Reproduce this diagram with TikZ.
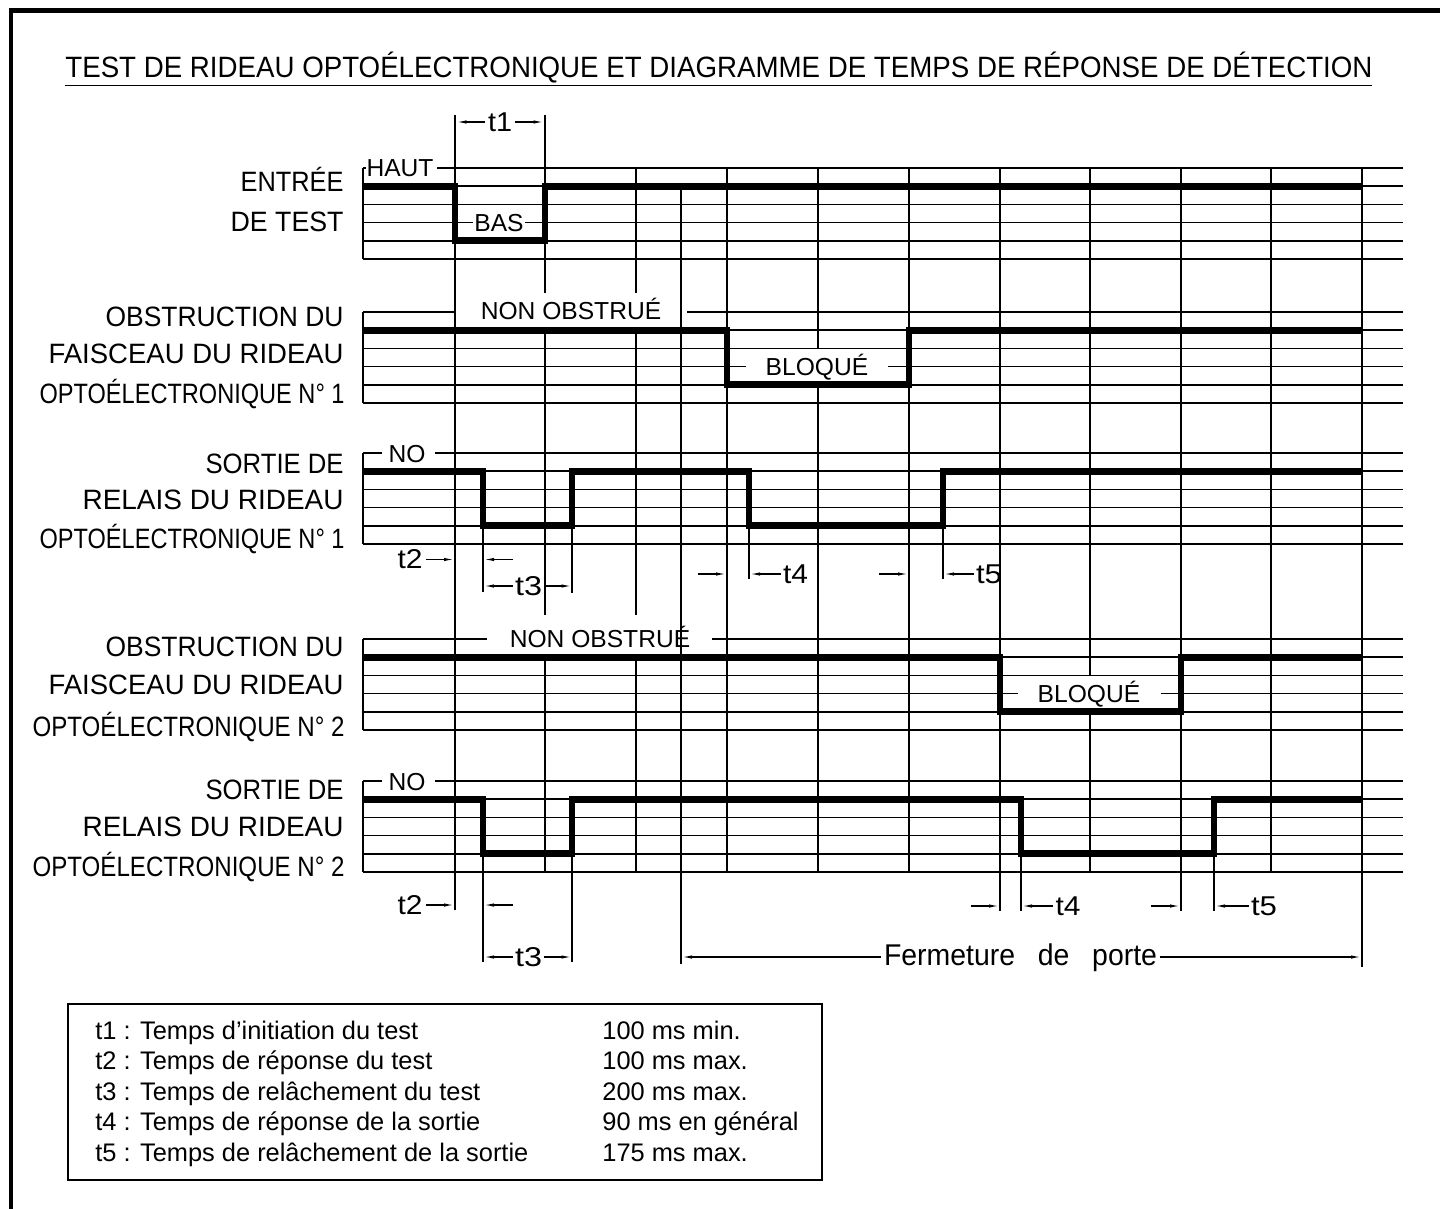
\documentclass[tikz,border=0pt]{standalone}
\usepackage{fontspec}
\usepackage{graphicx}
\setmainfont{Liberation Sans}
\newfontfamily\cadfont{Liberation Sans}
\usetikzlibrary{arrows.meta}
\newsavebox\fitbox
\newlength\fitlen
\newcommand\fitto[2]{\sbox\fitbox{#2}\setlength\fitlen{\wd\fitbox}\pgfmathsetmacro\fitratio{(#1/2)/\fitlen}\scalebox{\fitratio}[1]{\usebox\fitbox}}
\tikzset{
 gridline/.style={line width=0.85pt},
 wave/.style={line width=3.4pt, line join=miter, line cap=butt},
 dimline/.style={line width=0.6pt},
 dimarrow/.style={dimline, -{Latex[length=5pt,width=1.7pt]}},
 cadlbl/.style={inner sep=0pt, anchor=base east, font=\cadfont\fontsize{14}{16}\selectfont},
 tlbl/.style={inner sep=0pt, font=\cadfont\fontsize{13.6}{15}\selectfont},
 siglbl/.style={inner sep=0pt, anchor=base, font=\fontsize{12.3}{14}\selectfont},
 legtxt/.style={inner sep=0pt, anchor=base west, font=\fontsize{12.7}{15}\selectfont},
 frame/.style={line width=2.3pt},
 legbox/.style={line width=1.3pt},
}
\begin{document}
\begin{tikzpicture}[x=0.5pt,y=-0.5pt]
\useasboundingbox (0,0) rectangle (1440,1209);
% frame
\draw[frame] (11,1215) -- (11,10.5) -- (1445,10.5);
% title
\node[cadlbl, anchor=base west, font=\cadfont\fontsize{14.7}{16}\selectfont] (title) at (65,78)
 {\fitto{1307}{TEST DE RIDEAU OPTOÉLECTRONIQUE ET DIAGRAMME DE TEMPS DE RÉPONSE DE DÉTECTION}};
\draw[gridline] (65,85.5) -- (1372,85.5);

% grid blocks
\foreach \T in {168,312,453,639,781}{
  \draw[gridline] (363,\T) -- (363,{\T+91});
  \foreach \i in {1,2,4,5}{\draw[gridline] (363,{\T+\i*18.2}) -- (1403,{\T+\i*18.2});}
}
% block lines with label gaps
\draw[gridline] (363,168) -- (366,168) (437,168) -- (1403,168);
\draw[gridline] (363,222.6) -- (473,222.6) (525,222.6) -- (1403,222.6);
\draw[gridline] (363,312) -- (455,312) (687,312) -- (1403,312);
\draw[gridline] (363,366.6) -- (746,366.6) (888,366.6) -- (1403,366.6);
\draw[gridline] (363,453) -- (382,453) (435,453) -- (1403,453);
\draw[gridline] (363,507.6) -- (1403,507.6);
\draw[gridline] (363,639) -- (487,639) (712,639) -- (1403,639);
\draw[gridline] (363,693.6) -- (1018,693.6) (1161,693.6) -- (1403,693.6);
\draw[gridline] (363,781) -- (382,781) (435,781) -- (1403,781);
\draw[gridline] (363,835.6) -- (1403,835.6);

% vertical time lines
\draw[gridline] (455,115) -- (455,910);
\draw[gridline] (545,115) -- (545,293) (545,329) -- (545,615) (545,655) -- (545,872);
\draw[gridline] (636,168) -- (636,293) (636,329) -- (636,615) (636,655) -- (636,872);
\draw[gridline] (681,186) -- (681,964);
\draw[gridline] (727,168) -- (727,872);
\draw[gridline] (818,168) -- (818,348.4) (818,384.8) -- (818,872);
\draw[gridline] (909,168) -- (909,872);
\draw[gridline] (1000,168) -- (1000,911);
\draw[gridline] (1090,168) -- (1090,675.4) (1090,711.8) -- (1090,872);
\draw[gridline] (1181,168) -- (1181,911);
\draw[gridline] (1271,168) -- (1271,872);
\draw[gridline] (1362,168) -- (1362,967);

% waveforms
\draw[wave] (363,186.2) -| (455,240.8) -| (545,186.2) -- (1362,186.2);
\draw[wave] (363,330.2) -| (727,384.8) -| (909,330.2) -- (1362,330.2);
\draw[wave] (363,471.2) -| (483,525.8) -| (572,471.2) -| (749,525.8) -| (943,471.2) -- (1362,471.2);
\draw[wave] (363,657.2) -| (1000,711.8) -| (1181,657.2) -- (1362,657.2);
\draw[wave] (363,799.2) -| (483,853.8) -| (572,799.2) -| (1021,853.8) -| (1214,799.2) -- (1362,799.2);

% signal level labels
\node[siglbl] (haut) at (400,177) {HAUT};
\node[siglbl] (bas) at (499,231.6) {BAS};
\node[siglbl] (nonobs1) at (571,320) {NON OBSTRUÉ};
\node[siglbl] (bloq1) at (817,375.2) {BLOQUÉ};
\node[siglbl] (no1) at (407,462) {NO};
\node[siglbl] (nonobs2) at (600,647) {NON OBSTRUÉ};
\node[siglbl] (bloq2) at (1089,702) {BLOQUÉ};
\node[siglbl] (no2) at (407,790) {NO};

% row titles
\node[cadlbl] (r1a) at (344,192) {\fitto{103}{ENTRÉE}};
\node[cadlbl] (r1b) at (344,231.5) {\fitto{113}{DE TEST}};
\node[cadlbl] (r2a) at (344,327) {\fitto{238}{OBSTRUCTION DU}};
\node[cadlbl] (r2b) at (344,363) {\fitto{295}{FAISCEAU DU RIDEAU}};
\node[cadlbl] (r2c) at (345,403) {\fitto{305}{OPTOÉLECTRONIQUE N° 1}};
\node[cadlbl] (r3a) at (344,473) {\fitto{138}{SORTIE DE}};
\node[cadlbl] (r3b) at (344,509) {\fitto{261}{RELAIS DU RIDEAU}};
\node[cadlbl] (r3c) at (345,548) {\fitto{305}{OPTOÉLECTRONIQUE N° 1}};
\node[cadlbl] (r4a) at (344,656) {\fitto{238}{OBSTRUCTION DU}};
\node[cadlbl] (r4b) at (344,694) {\fitto{295}{FAISCEAU DU RIDEAU}};
\node[cadlbl] (r4c) at (345,736) {\fitto{312}{OPTOÉLECTRONIQUE N° 2}};
\node[cadlbl] (r5a) at (344,799) {\fitto{138}{SORTIE DE}};
\node[cadlbl] (r5b) at (344,836) {\fitto{261}{RELAIS DU RIDEAU}};
\node[cadlbl] (r5c) at (345,876) {\fitto{312}{OPTOÉLECTRONIQUE N° 2}};

% dimension labels
\node[tlbl] (t1) at (500,122) {\fitto{24}{t1}};
\node[tlbl] (t2a) at (410,559.5) {\fitto{25}{t2}};
\node[tlbl] (t3a) at (528.5,586) {\fitto{27}{t3}};
\node[tlbl] (t4a) at (795.5,574) {\fitto{25}{t4}};
\node[tlbl] (t5a) at (989,574) {\fitto{26}{t5}};
\node[tlbl] (t2b) at (410,905) {\fitto{25}{t2}};
\node[tlbl] (t3b) at (528.5,957) {\fitto{27}{t3}};
\node[tlbl] (t4b) at (1068,906) {\fitto{25}{t4}};
\node[tlbl] (t5b) at (1264,906) {\fitto{26}{t5}};
\node[tlbl, anchor=base, font=\cadfont\fontsize{15}{17}\selectfont] (ferm) at (1020.5,965)
 {\fitto{273}{Fermeture\hspace{0.8em}de\hspace{0.8em}porte}};

% extension lines
\draw[dimline] (483,527) -- (483,592) (572,527) -- (572,593) (749,527) -- (749,579) (943,527) -- (943,579);
\draw[dimline] (483,855) -- (483,962) (572,855) -- (572,962) (1021,855) -- (1021,911) (1214,855) -- (1214,911);

% dimension arrows
\draw[dimarrow] ([xshift=-1.5pt]t1.west) -- (456.5,122);
\draw[dimarrow] ([xshift=1.5pt]t1.east) -- (543.5,122);
\draw[dimarrow] ([xshift=1.5pt]t2a.east) -- (454,559.5);
\draw[dimarrow] (513,559.5) -- (484,559.5);
\draw[dimarrow] ([xshift=-1pt]t3a.west) -- (484,586);
\draw[dimarrow] ([xshift=1pt]t3a.east) -- (571.5,586);
\draw[dimarrow] (698,574) -- (726,574);
\draw[dimarrow] ([xshift=-1pt]t4a.west) -- (750,574);
\draw[dimarrow] (879,574) -- (908,574);
\draw[dimarrow] ([xshift=-1pt]t5a.west) -- (944,574);
\draw[dimarrow] ([xshift=1.5pt]t2b.east) -- (454,905);
\draw[dimarrow] (513,905) -- (484,905);
\draw[dimarrow] ([xshift=-1pt]t3b.west) -- (484,957);
\draw[dimarrow] ([xshift=1pt]t3b.east) -- (571.5,957);
\draw[dimarrow] (971,906) -- (999,906);
\draw[dimarrow] ([xshift=-1pt]t4b.west) -- (1022,906);
\draw[dimarrow] (1151,906) -- (1180,906);
\draw[dimarrow] ([xshift=-1pt]t5b.west) -- (1215,906);
\draw[dimarrow] ([xshift=-1.5pt]ferm.west |- 0,957) -- (682,957);
\draw[dimarrow] ([xshift=1.5pt]ferm.east |- 0,957) -- (1361,957);

% legend
\draw[legbox] (68,1004) rectangle (822,1180);
\node[legtxt] (g1) at (95,1039) {t1 : Temps d’initiation du test};
\node[legtxt] (g2) at (95,1069.5) {t2 : Temps de réponse du test};
\node[legtxt] (g3) at (95,1100) {t3 : Temps de relâchement du test};
\node[legtxt] (g4) at (95,1130.5) {t4 : Temps de réponse de la sortie};
\node[legtxt] (g5) at (95,1161) {t5 : Temps de relâchement de la sortie};
\node[legtxt] (v1) at (602,1039) {100 ms min.};
\node[legtxt] (v2) at (602,1069.5) {100 ms max.};
\node[legtxt] (v3) at (602,1100) {200 ms max.};
\node[legtxt] (v4) at (602,1130.5) {90 ms en général};
\node[legtxt] (v5) at (602,1161) {175 ms max.};
\end{tikzpicture}
\end{document}
